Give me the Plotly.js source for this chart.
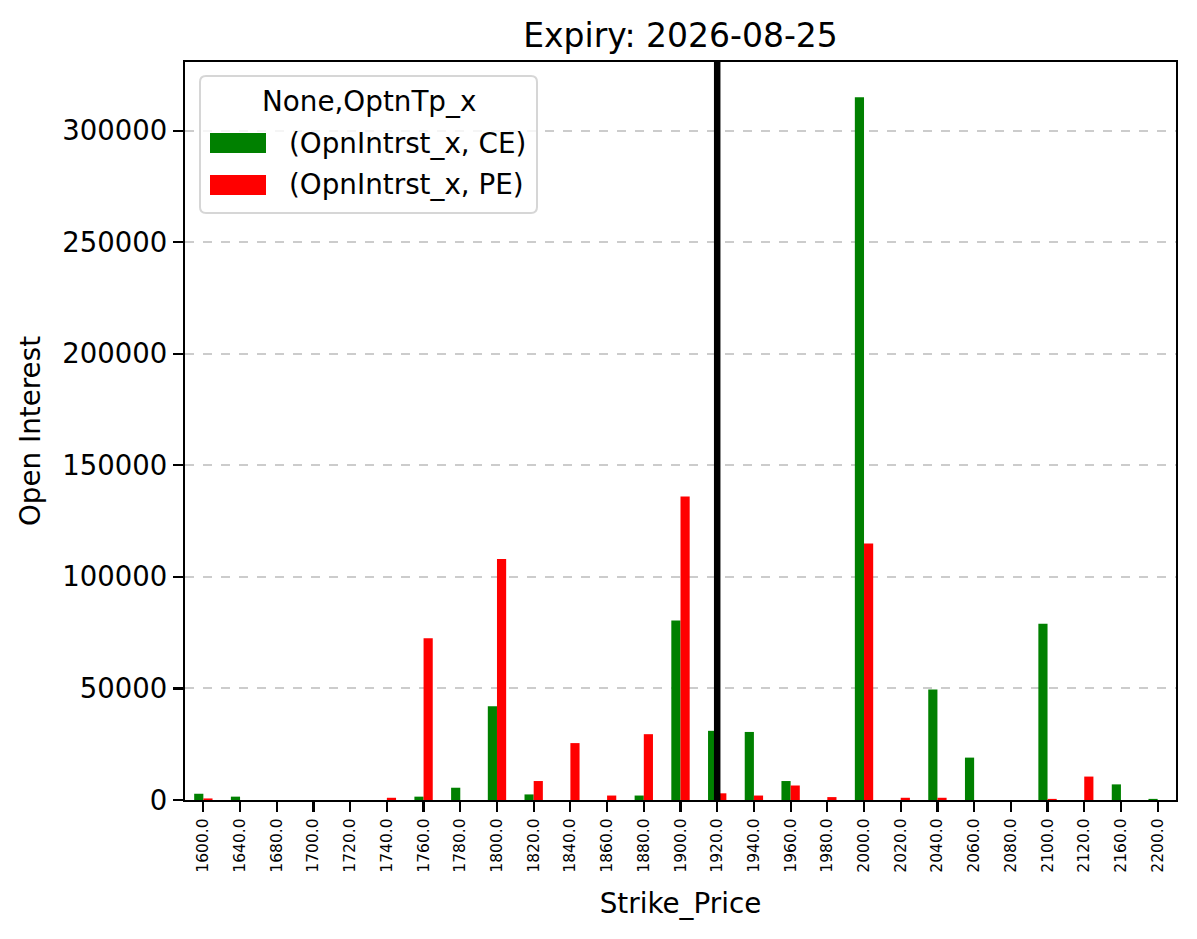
<!DOCTYPE html>
<html>
<head>
<meta charset="utf-8">
<script src="https://cdn.plot.ly/plotly-3.0.1.min.js"></script>
<style>html,body{margin:0;padding:0;background:#fff;}</style>
</head>
<body>
<div id="chart" style="width:1197px;height:939px;"></div>
<script>
const strikes = ['1600.0','1640.0','1680.0','1700.0','1720.0','1740.0','1760.0','1780.0','1800.0','1820.0','1840.0','1860.0','1880.0','1900.0','1920.0','1940.0','1960.0','1980.0','2000.0','2020.0','2040.0','2060.0','2080.0','2100.0','2120.0','2160.0','2200.0'];
const ceOI = [2800,1500,0,0,0,0,1500,5500,42000,2500,0,0,2000,80500,31000,30500,8500,0,315000,0,49500,19000,0,79000,0,7000,500];
const peOI = [700,0,0,0,0,1000,72500,0,108000,8500,25500,2000,29500,136000,3000,2000,6500,1300,115000,1000,1000,0,0,500,10500,0,0];
const yTicks = [0,50000,100000,150000,200000,250000,300000];
const spotStrike = '1920.0';
const chartTitle = 'Expiry: 2026-08-25';
const legendTitle = 'None,OptnTp_x';
const seriesNames = ['(OpnIntrst_x, CE)', '(OpnIntrst_x, PE)'];
const seriesColors = ['#008000', '#ff0000'];

const F = 'DejaVu Sans, sans-serif';
const W = 1197, H = 939;
const M = {l:185, r:21, t:62, b:139};
const PW = W - M.l - M.r, PH = H - M.t - M.b;
// pixel -> paper helpers (for the hand-drawn legend box)
const px = X => (X - M.l) / PW;
const py = Y => (M.t + PH - Y) / PH;

function roundedRect(x0, y0, x1, y1, r) {
  // pixel coords, returns path in paper coords
  const P = (X, Y) => px(X).toFixed(5) + ',' + py(Y).toFixed(5);
  return 'M' + P(x0 + r, y0) + ' L' + P(x1 - r, y0) + ' Q' + P(x1, y0) + ' ' + P(x1, y0 + r) +
    ' L' + P(x1, y1 - r) + ' Q' + P(x1, y1) + ' ' + P(x1 - r, y1) +
    ' L' + P(x0 + r, y1) + ' Q' + P(x0, y1) + ' ' + P(x0, y1 - r) +
    ' L' + P(x0, y0 + r) + ' Q' + P(x0, y0) + ' ' + P(x0 + r, y0) + ' Z';
}

const traces = [
  {type:'bar', x:strikes, y:ceOI, name:seriesNames[0], marker:{color:seriesColors[0]}, showlegend:false},
  {type:'bar', x:strikes, y:peOI, name:seriesNames[1], marker:{color:seriesColors[1]}, showlegend:false}
];

const legendShapes = [
  {type:'path', xref:'paper', yref:'paper', path:roundedRect(200, 76, 537, 213, 6),
   fillcolor:'rgba(255,255,255,0.8)', line:{color:'#d6d6d6', width:2}, layer:'above'},
  {type:'rect', xref:'paper', yref:'paper', x0:px(210), x1:px(266), y0:py(133), y1:py(153),
   fillcolor:seriesColors[0], line:{width:0}, layer:'above'},
  {type:'rect', xref:'paper', yref:'paper', x0:px(210), x1:px(266), y0:py(175), y1:py(195),
   fillcolor:seriesColors[1], line:{width:0}, layer:'above'}
];
const legendAnn = [
  {xref:'paper', yref:'paper', x:px(368.5), y:py(101), xanchor:'center', yanchor:'middle', showarrow:false,
   text:legendTitle, font:{family:F, size:27.8, color:'#000'}},
  {xref:'paper', yref:'paper', x:px(287), y:py(143), xanchor:'left', yanchor:'middle', showarrow:false,
   text:seriesNames[0], font:{family:F, size:27.8, color:'#000'}},
  {xref:'paper', yref:'paper', x:px(287), y:py(185), xanchor:'left', yanchor:'middle', showarrow:false,
   text:seriesNames[1], font:{family:F, size:27.8, color:'#000'}}
];

const spotIdx = strikes.indexOf(spotStrike);

const layout = {
  width:W, height:H,
  paper_bgcolor:'#fff', plot_bgcolor:'#fff',
  margin:M,
  barmode:'group', bargap:0.5, bargroupgap:0,
  font:{family:F, color:'#000', size:27},
  title:{text:chartTitle, font:{family:F, size:33, color:'#000'}, x:0.5, xref:'paper', xanchor:'center', y:1-35/H, yref:'container', yanchor:'middle'},
  xaxis:{
    type:'category', range:[-0.5, strikes.length-0.5],
    tickangle:-90, tickfont:{family:F, size:15.5, color:'#000'},
    ticks:'outside', ticklen:10, tickwidth:2.2, tickcolor:'#000',
    showline:true, linecolor:'#000', linewidth:2.2, mirror:true,
    showgrid:false, zeroline:false, automargin:false,
    title:{text:'Strike_Price', font:{family:F, size:27.8, color:'#000'}, standoff:22}
  },
  yaxis:{
    range:[0, 330750], tickvals:yTicks, ticktext:yTicks.map(String),
    tickfont:{family:F, size:27.5, color:'#000'},
    ticks:'outside', ticklen:10, tickwidth:2.2, tickcolor:'#000',
    showline:true, linecolor:'#000', linewidth:2.2, mirror:true,
    showgrid:true, gridcolor:'rgba(170,170,170,0.6)', gridwidth:2, griddash:'dash',
    zeroline:false, automargin:false,
    title:{text:'Open Interest', font:{family:F, size:27.8, color:'#000'}, standoff:14}
  },
  shapes:[{type:'line', xref:'x', yref:'paper', x0:spotIdx, x1:spotIdx, y0:0, y1:1, line:{color:'#000', width:6.5}, layer:'above'}].concat(legendShapes),
  annotations:legendAnn,
  showlegend:false
};
Plotly.newPlot('chart', traces, layout, {displayModeBar:false, staticPlot:true});
</script>
</body>
</html>
